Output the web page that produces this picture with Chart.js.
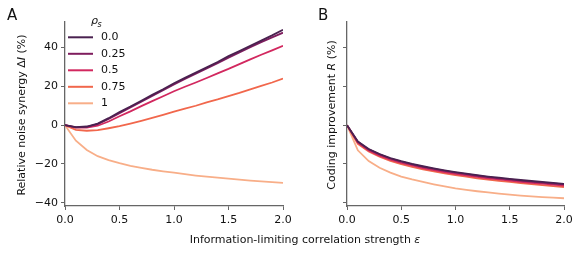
<!DOCTYPE html>
<html>
<head>
<meta charset="utf-8">
<script src="https://cdn.jsdelivr.net/npm/chart.js@4.4.1/dist/chart.umd.min.js"></script>
<style>
  body { margin: 0; background: #fff; }
  #wrap { position: relative; width: 581px; height: 255px; }
  canvas { position: absolute; top: 0; }
</style>
</head>
<body>
<div id="wrap">
  <canvas id="chartA" width="581" height="255" style="left:0"></canvas>
  <canvas id="chartB" width="291" height="255" style="left:290px"></canvas>
</div>
<script>
// correlation strength epsilon
var xs = [0, 0.1, 0.2, 0.3, 0.4, 0.5, 0.6, 0.7, 0.8, 0.9, 1.0,
          1.1, 1.2, 1.3, 1.4, 1.5, 1.6, 1.7, 1.8, 1.9, 2.0];
var rhoLabels = ['0.0', '0.25', '0.5', '0.75', '1'];
var xTicks = [0, 0.5, 1.0, 1.5, 2.0];
var yTicks = [-40, -20, 0, 20, 40];

// panel A: relative noise synergy (%)
var synergy0   = [0, -1.0, -0.7, 0.8, 3.6, 6.8, 9.6, 12.6, 15.6, 18.5, 21.6, 24.4, 27.1, 29.8, 32.6, 35.6, 38.2, 40.9, 43.6, 46.3, 49.2];
var synergy25  = [0, -1.1, -0.9, 0.5, 3.2, 6.2, 9.1, 12.1, 15.1, 18.0, 21.0, 23.8, 26.5, 29.2, 32.0, 34.8, 37.5, 40.2, 42.8, 45.3, 47.7];
var synergy50  = [0, -1.3, -1.3, -0.3, 1.9, 4.6, 7.1, 9.8, 12.4, 14.9, 17.5, 19.8, 22.0, 24.3, 26.7, 29.0, 31.5, 33.9, 36.3, 38.6, 40.9];
var synergy75  = [0, -2.4, -2.9, -2.6, -1.6, -0.5, 0.8, 2.2, 3.7, 5.3, 7.0, 8.5, 10.0, 11.8, 13.3, 15.0, 16.6, 18.5, 20.2, 22.0, 24.0];
var synergy100 = [0, -8.0, -12.8, -16.0, -18.0, -19.6, -21.0, -22.0, -23.0, -23.8, -24.5, -25.3, -26.0, -26.6, -27.1, -27.6, -28.1, -28.6, -29.0, -29.4, -29.8];

// panel B: coding improvement (%)
var coding0   = [0, -8.4, -12.3, -14.9, -17.0, -18.6, -20.0, -21.2, -22.3, -23.3, -24.2, -25.0, -25.8, -26.5, -27.1, -27.7, -28.3, -28.8, -29.3, -29.8, -30.3];
var coding25  = [0, -8.6, -12.5, -15.1, -17.2, -18.8, -20.2, -21.5, -22.6, -23.6, -24.5, -25.3, -26.1, -26.8, -27.4, -28.0, -28.6, -29.1, -29.6, -30.1, -30.6];
var coding50  = [0, -9.0, -13.0, -15.7, -17.8, -19.4, -20.8, -22.1, -23.2, -24.2, -25.1, -25.9, -26.7, -27.4, -28.0, -28.6, -29.2, -29.7, -30.2, -30.7, -31.2];
var coding75  = [0, -9.6, -13.6, -16.3, -18.4, -20.1, -21.5, -22.8, -23.9, -24.9, -25.8, -26.6, -27.4, -28.1, -28.7, -29.3, -29.9, -30.4, -30.9, -31.4, -31.9];
var coding100 = [0, -13.0, -18.5, -22.0, -24.5, -26.5, -28.0, -29.3, -30.5, -31.6, -32.6, -33.4, -34.1, -34.7, -35.3, -35.8, -36.3, -36.7, -37.1, -37.4, -37.7];

var palette = ['#4a2150', '#7f1d5e', '#d2285f', '#f1674c', '#f8ae88'];
var FONT = 'DejaVu Sans';

function toPoints(arr) {
    return xs.map(function (x, i) { return { x: x, y: arr[i] }; });
}

function makeDatasets(series) {
    return series.map(function (s, i) {
        return {
            label: rhoLabels[i],
            data: toPoints(s),
            borderColor: palette[i],
            borderWidth: 1.8,
            pointRadius: 0,
            tension: 0,
            fill: false
        };
    });
}

// draw a line of text made of normal / italic runs, centred on (x, y)
function drawRuns(ctx, runs, x, y, angle, size) {
    ctx.save();
    ctx.translate(x, y);
    ctx.rotate(angle);
    ctx.textBaseline = 'middle';
    ctx.fillStyle = '#111';
    var w = 0;
    runs.forEach(function (r) {
        ctx.font = (r.i ? 'italic ' : '') + size + 'px "' + FONT + '"';
        r.w = ctx.measureText(r.t).width;
        w += r.w;
    });
    var cx = -w / 2;
    runs.forEach(function (r) {
        ctx.font = (r.i ? 'italic ' : '') + size + 'px "' + FONT + '"';
        ctx.textAlign = 'left';
        ctx.fillText(r.t, cx, 0);
        cx += r.w;
    });
    ctx.restore();
}

function axisOptions(yWidth, showYLabels) {
    return {
        x: {
            type: 'linear', min: 0, max: 2,
            afterBuildTicks: function (s) { s.ticks = xTicks.map(function (v) { return { value: v }; }); },
            afterFit: function (s) { s.height = 49; },
            grid: { drawOnChartArea: false, drawTicks: true, tickLength: 4, color: '#666' },
            border: { display: true, color: '#666', width: 1.3 },
            ticks: { color: '#111', font: { family: FONT, size: 11 }, padding: 4, maxRotation: 0,
                     callback: function (v) { return v.toFixed(1); } }
        },
        y: {
            type: 'linear', min: -41.7, max: 53.2,
            afterBuildTicks: function (s) { s.ticks = yTicks.map(function (v) { return { value: v }; }); },
            afterFit: function (s) { s.width = yWidth; },
            grid: { drawOnChartArea: false, drawTicks: true, tickLength: 4, color: '#666' },
            border: { display: true, color: '#666', width: 1.3 },
            ticks: { color: '#111', font: { family: FONT, size: 11 }, padding: 3,
                     callback: function (v) { return showYLabels ? String(v).replace('-', '\u2212') : ''; } }
        }
    };
}

var decorA = {
    id: 'decorA',
    afterDraw: function (chart) {
        var ctx = chart.ctx;
        ctx.save();
        ctx.font = '15px "' + FONT + '"';
        ctx.fillStyle = '#111';
        ctx.textBaseline = 'middle';
        ctx.textAlign = 'left';
        ctx.fillText('A', 7, 16);
        ctx.restore();

        drawRuns(ctx, [{ t: 'Relative noise synergy \u0394' }, { t: 'I', i: true }, { t: ' (%)' }],
                 22, 115, -Math.PI / 2, 11);
        drawRuns(ctx, [{ t: 'Information-limiting correlation strength ' }, { t: '\u03b5', i: true }],
                 305, 240, 0, 11);

        // legend
        ctx.save();
        ctx.fillStyle = '#111';
        ctx.textBaseline = 'middle';
        ctx.font = 'italic 11px "' + FONT + '"';
        ctx.fillText('\u03c1', 91, 21);
        ctx.font = 'italic 8px "' + FONT + '"';
        ctx.fillText('s', 97.5, 25);
        ctx.font = '11px "' + FONT + '"';
        chart.data.datasets.forEach(function (ds, i) {
            var y = 37.3 + i * 16.5;
            ctx.strokeStyle = ds.borderColor;
            ctx.lineWidth = 2;
            ctx.beginPath();
            ctx.moveTo(68, y);
            ctx.lineTo(93, y);
            ctx.stroke();
            ctx.fillText(ds.label, 101, y);
        });
        ctx.restore();
    }
};

var decorB = {
    id: 'decorB',
    afterDraw: function (chart) {
        var ctx = chart.ctx;
        ctx.save();
        ctx.font = '15px "' + FONT + '"';
        ctx.fillStyle = '#111';
        ctx.textBaseline = 'middle';
        ctx.fillText('B', 28, 16);
        ctx.restore();
        drawRuns(ctx, [{ t: 'Coding improvement ' }, { t: 'R', i: true }, { t: ' (%)' }],
                 42, 115, -Math.PI / 2, 11);
    }
};

new Chart(document.getElementById('chartA').getContext('2d'), {
    type: 'line',
    data: { datasets: makeDatasets([synergy0, synergy25, synergy50, synergy75, synergy100]) },
    options: {
        responsive: false,
        animation: false,
        layout: { padding: { left: 0, top: 22, right: 298, bottom: 0 } },
        plugins: { legend: { display: false }, tooltip: { enabled: false } },
        scales: axisOptions(65, true)
    },
    plugins: [decorA]
});

new Chart(document.getElementById('chartB').getContext('2d'), {
    type: 'line',
    data: { datasets: makeDatasets([coding0, coding25, coding50, coding75, coding100]) },
    options: {
        responsive: false,
        animation: false,
        layout: { padding: { left: 0, top: 22, right: 17, bottom: 0 } },
        plugins: { legend: { display: false }, tooltip: { enabled: false } },
        scales: axisOptions(57, false)
    },
    plugins: [decorB]
});
</script>
</body>
</html>
